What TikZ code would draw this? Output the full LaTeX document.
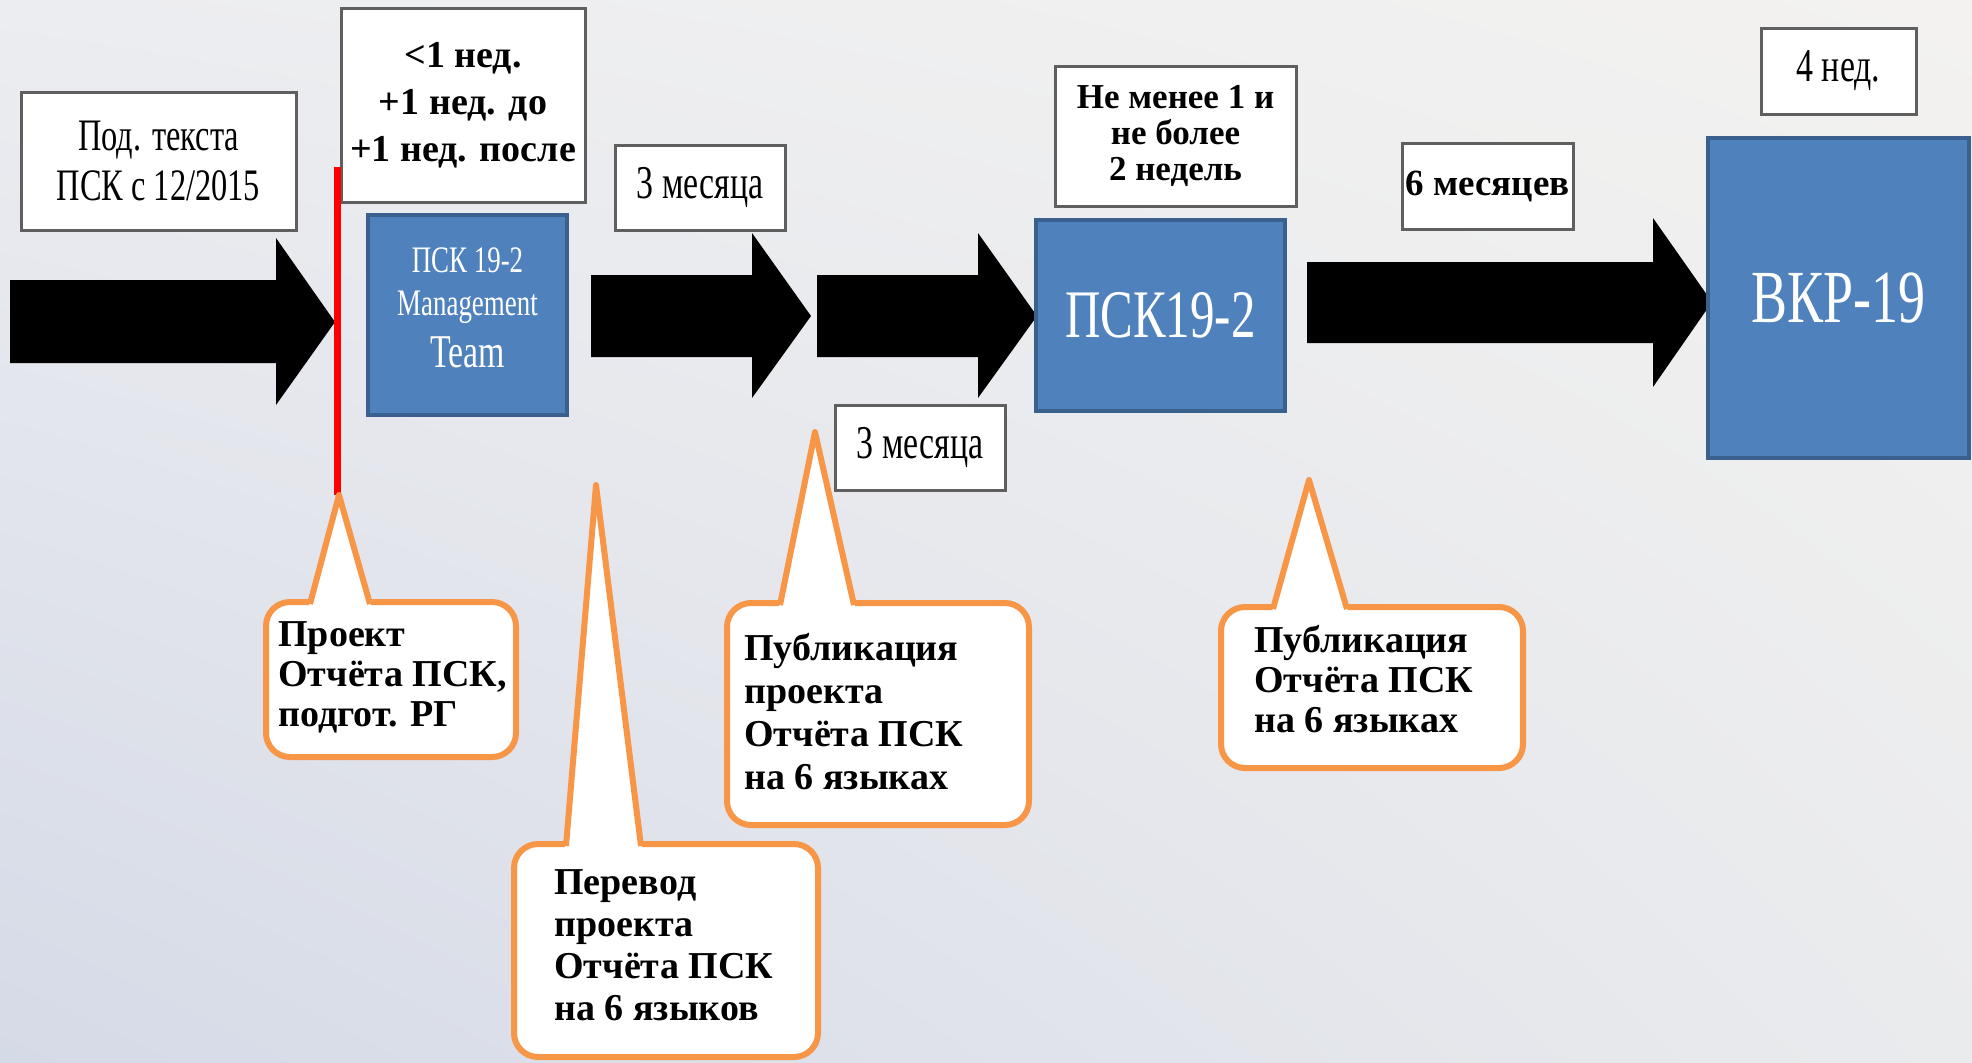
\documentclass[tikz,border=0pt]{standalone}
\usepackage{fontspec}
\usetikzlibrary{shadings}
\setmainfont{Liberation Serif}
\newfontfamily\cond[FakeStretch=0.72]{Liberation Serif}
\definecolor{boxblue}{RGB}{79,129,189}
\definecolor{boxblueedge}{RGB}{58,96,142}
\definecolor{callorange}{RGB}{247,150,70}
\definecolor{boxedge}{RGB}{95,95,95}
\definecolor{bgUL}{RGB}{236,237,240}
\definecolor{bgUR}{RGB}{243,242,240}
\definecolor{bgLL}{RGB}{213,218,231}
\definecolor{bgLR}{RGB}{234,235,237}
\definecolor{redmark}{RGB}{255,0,0}
\begin{document}
\begin{tikzpicture}[x=0.5pt,y=-0.5pt,
  wbox/.style={draw=boxedge, line width=1.5pt, fill=white, inner sep=0pt, align=center},
  bbox/.style={draw=boxblueedge, line width=2pt, fill=boxblue, inner sep=0pt, text=white, align=center},
  blockarrow/.style={fill=black},
  calloutbody/.style={draw=callorange, line width=3pt, fill=white, rounded corners=12pt, inner sep=0pt},
  pointerfill/.style={fill=white},
  pointerline/.style={draw=callorange, line width=3pt, line join=round},
  ctext/.style={anchor=base west, align=left, inner sep=0pt},
  bluetext/.style={anchor=base, inner sep=0pt, text=white},
  redline/.style={draw=redmark, line width=3.5pt}
]
\useasboundingbox (0,0) rectangle (1972,1062);
\shade[upper left=bgUL, upper right=bgUR, lower left=bgLL, lower right=bgLR] (0,0) rectangle (1972,1062);

% block arrows
\fill[blockarrow] (10,280) -- (276,280) -- (276,238) -- (335,322) -- (276,405) -- (276,363) -- (10,363) -- cycle;
\fill[blockarrow] (591,275) -- (752,275) -- (752,233) -- (811,316) -- (752,398) -- (752,357) -- (591,357) -- cycle;
\fill[blockarrow] (817,275) -- (978,275) -- (978,233) -- (1037,316) -- (978,398) -- (978,357) -- (817,357) -- cycle;
\fill[blockarrow] (1307,262) -- (1653,262) -- (1653,218) -- (1712,302) -- (1653,387) -- (1653,343) -- (1307,343) -- cycle;

% white label boxes
\node[wbox, minimum width=137.5pt, minimum height=69pt, font=\cond\fontsize{22.5}{25}\selectfont] (lblA) at (158.5,161) {Под. текста\\ПСК с 12/2015};
\node[wbox, minimum width=122pt, minimum height=97pt, font=\bfseries\fontsize{19}{23.5}\selectfont] (lblB) at (463,105) {<1 нед.\\+1 нед. до\\+1 нед. после};
\node[wbox, minimum width=85pt, minimum height=42.5pt, font=\cond\fontsize{23.5}{26}\selectfont] (lblM1) at (700,187.5) {3 месяца};
\node[wbox, minimum width=85pt, minimum height=42.5pt, font=\cond\fontsize{23.5}{26}\selectfont] (lblM2) at (920,447.5) {3 месяца};
\node[wbox, minimum width=120.5pt, minimum height=70pt, font=\bfseries\fontsize{17.5}{18.2}\selectfont] (lblN) at (1175.5,136) {Не менее 1 и\\не более\\2 недель};
\node[wbox, minimum width=85.5pt, minimum height=43pt, font=\bfseries\fontsize{18.5}{20}\selectfont] (lblS) at (1487.5,186) {6 месяцев};
\node[wbox, minimum width=77.5pt, minimum height=43pt, font=\cond\fontsize{23.5}{26}\selectfont] (lblW) at (1838.5,71) {4 нед.};

% blue boxes
\node[bbox, minimum width=99.5pt, minimum height=100pt] (psk1) at (467.5,315) {};
\node[bluetext, font=\cond\fontsize{18.7}{20}\selectfont] (psk1a) at (467.5,272) {ПСК 19-2};
\node[bluetext, font=\cond\fontsize{18.7}{20}\selectfont] (psk1b) at (467.5,315) {Management};
\node[bluetext, font=\cond\fontsize{23.5}{25}\selectfont] (psk1c) at (467.5,367) {Team};
\node[bbox, minimum width=124.5pt, minimum height=95.5pt, font=\cond\fontsize{34}{36}\selectfont] (psk2) at (1160.5,315.5) {ПСК19-2};
\node[bbox, minimum width=130.5pt, minimum height=160pt, font=\cond\fontsize{37.5}{40}\selectfont] (vkr) at (1838.5,298) {ВКР-19};

% red marker line
\coordinate (redtop) at (337,167);
\coordinate (tip1) at (339,495);
\draw[redline] (redtop) -- (redtop |- tip1);

% callout 1
\node[calloutbody, minimum width=125pt, minimum height=77.5pt] (c1box) at (391,679.5) {};
\fill[pointerfill] (tip1) -- (309,606) -- (371,606) -- cycle;
\draw[pointerline] (310,604) -- (tip1) -- (370,604);
\node[ctext, font=\bfseries\fontsize{19}{20}\selectfont] (c1) at (278,726) {Проект\\Отчёта ПСК,\\подгот. РГ};

% callout 2
\coordinate (tip2) at (596,485);
\node[calloutbody, minimum width=152pt, minimum height=106.5pt] (c2box) at (666,950.5) {};
\fill[pointerfill] (tip2) -- (565,848) -- (642,848) -- cycle;
\draw[pointerline] (566,846) -- (tip2) -- (641,846);
\node[ctext, font=\bfseries\fontsize{19}{21}\selectfont] (c2) at (554,1020) {Перевод\\проекта\\Отчёта ПСК\\на 6 языков};

% callout 3
\coordinate (tip3) at (815,432);
\node[calloutbody, minimum width=151pt, minimum height=111pt] (c3box) at (878,714) {};
\fill[pointerfill] (tip3) -- (779,607) -- (855,607) -- cycle;
\draw[pointerline] (780,605) -- (tip3) -- (854,605);
\node[ctext, font=\bfseries\fontsize{19}{21.5}\selectfont] (c3) at (744,789) {Публикация\\проекта\\Отчёта ПСК\\на 6 языках};

% callout 4
\coordinate (tip4) at (1309,480);
\node[calloutbody, minimum width=151pt, minimum height=80.5pt] (c4box) at (1372,687.5) {};
\fill[pointerfill] (tip4) -- (1272,611) -- (1348,611) -- cycle;
\draw[pointerline] (1273,609) -- (tip4) -- (1347,609);
\node[ctext, font=\bfseries\fontsize{19}{20}\selectfont] (c4) at (1254,732) {Публикация\\Отчёта ПСК\\на 6 языках};
\end{tikzpicture}
\end{document}
